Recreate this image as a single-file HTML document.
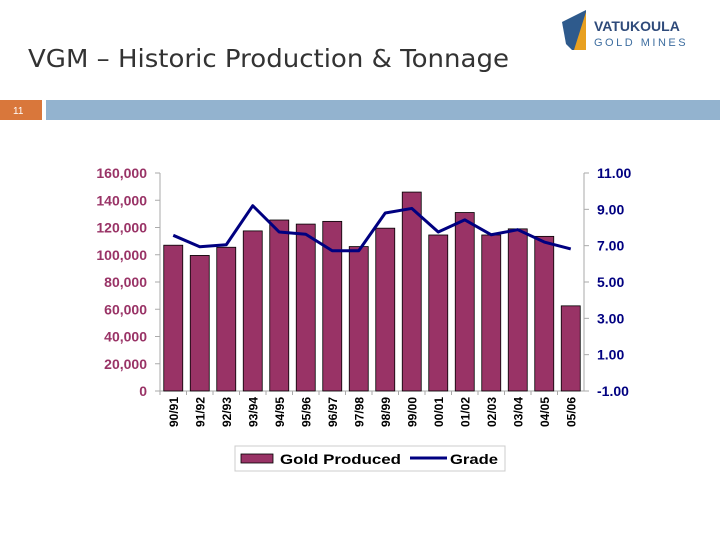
<!DOCTYPE html>
<html><head><meta charset="utf-8"><style>
body{margin:0;width:720px;height:540px;background:#fff;overflow:hidden;font-family:"Liberation Sans",sans-serif}
</style></head><body>
<svg width="720" height="540">
<text x="28" y="67" font-size="25" fill="#333" font-family="DejaVu Sans, Liberation Sans, sans-serif" textLength="481" lengthAdjust="spacingAndGlyphs">VGM – Historic Production &amp; Tonnage</text>
<g>
<polygon points="562,22 586,10 586,50 572,50 566,44" fill="#2e5a8c"/>
<polygon points="574,50 586,12 586,50" fill="#e8a020"/>
<text x="594" y="31" font-size="14" font-weight="bold" fill="#2e4a7a">VATUKOULA</text>
<text x="594" y="46" font-size="11" fill="#3e6ea0" letter-spacing="2.5">GOLD MINES</text>
</g>
<rect x="0" y="100" width="42" height="20" fill="#d9773b"/>
<text x="13" y="114" font-size="10" fill="#fff">11</text>
<rect x="46" y="100" width="674" height="20" fill="#93b3cf"/>
<g id="chart"></g>
<g>
<rect x="235" y="446" width="270" height="25" fill="#fff" stroke="#ccc"/>
<rect x="241" y="454" width="32" height="9" fill="#993366" stroke="#000" stroke-width="0.8"/>
<text x="280" y="464" font-size="14" font-weight="bold" textLength="121" lengthAdjust="spacingAndGlyphs">Gold Produced</text>
<line x1="410" y1="458" x2="447" y2="458" stroke="#000080" stroke-width="3"/>
<text x="450" y="464" font-size="14" font-weight="bold" textLength="48" lengthAdjust="spacingAndGlyphs">Grade</text>
</g>
</svg>
<script>
const categories=["90/91","91/92","92/93","93/94","94/95","95/96","96/97","97/98","98/99","99/00","00/01","01/02","02/03","03/04","04/05","05/06"];
const goldProduced=[107000,99500,105500,117500,125500,122500,124500,106000,119500,146000,114500,131000,114500,119000,113500,62500];
const grade=[7.57,6.94,7.05,9.2,7.75,7.63,6.72,6.72,8.8,9.05,7.75,8.42,7.6,7.88,7.2,6.82];
const leftTicks=[0,20000,40000,60000,80000,100000,120000,140000,160000];
const rightTicks=[-1,1,3,5,7,9,11];
const NS="http://www.w3.org/2000/svg";
const g=document.getElementById('chart');
const X0=160,X1=584,Y0=391,Y1=173;
const band=(X1-X0)/categories.length;
const yL=v=>Y0-(v/160000)*(Y0-Y1);
const yR=v=>Y0-((v+1)/12)*(Y0-Y1);
const xC=i=>X0+band*(i+0.5);
function mk(t,a){const e=document.createElementNS(NS,t);for(const k in a)e.setAttribute(k,a[k]);g.appendChild(e);return e;}
let ax=mk('line',{x1:X0,y1:Y1,x2:X0,y2:Y0,stroke:'#aaa'});

let ax2=mk('line',{x1:X1,y1:Y1,x2:X1,y2:Y0,stroke:'#aaa'});

let ax3=mk('line',{x1:X0,y1:Y0,x2:X1,y2:Y0,stroke:'#aaa'});

leftTicks.forEach(v=>{const y=yL(v);mk('line',{x1:X0-5,y1:y,x2:X0,y2:y,stroke:'#aaa'});
const t=mk('text',{x:X0-13,y:y+5,'font-size':14,'font-weight':'bold',fill:'#993366','text-anchor':'end'});t.textContent=v.toLocaleString('en-US');
});
rightTicks.forEach(v=>{const y=yR(v);mk('line',{x1:X1,y1:y,x2:X1+5,y2:y,stroke:'#aaa'});
const t=mk('text',{x:X1+13,y:y+5,'font-size':14,'font-weight':'bold',fill:'#000080'});t.textContent=v.toFixed(2);
});
categories.forEach((c,i)=>{const x=xC(i);
mk('line',{x1:X0+band*i,y1:Y0,x2:X0+band*i,y2:Y0+4,stroke:'#aaa'});
const b=mk('rect',{x:x-9.5,y:yL(goldProduced[i]),width:19,height:Y0-yL(goldProduced[i]),fill:'#993366',stroke:'#000','stroke-width':0.8});

const t=mk('text',{x:0,y:0,'font-size':12,'font-weight':'bold','text-anchor':'end',transform:`translate(${x+4.5},${Y0+6}) rotate(-90)`});t.textContent=c;
});
const pl=mk('polyline',{points:grade.map((v,i)=>xC(i)+','+yR(v)).join(' '),fill:'none',stroke:'#000080','stroke-width':3,'stroke-linejoin':'round'});

</script>
</body></html>
